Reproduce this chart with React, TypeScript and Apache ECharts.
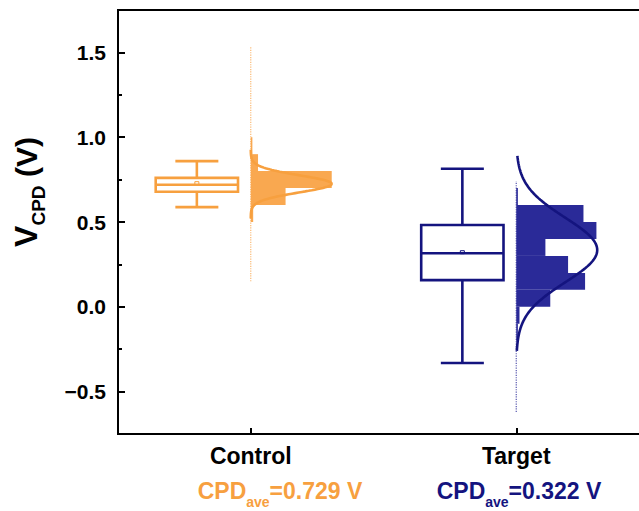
import React, { useEffect, useRef } from "react";
import * as echarts from "echarts";

// ---------- data ----------
const categories = ["Control", "Target"];
const categoryPos = [1, 2];
const cpdAverage = [0.729, 0.322];

// box stats: [lower whisker, Q1, median, Q3, upper whisker, mean]
const controlBox = [0.588, 0.678, 0.72, 0.76, 0.859, 0.729];
const targetBox = [-0.331, 0.157, 0.316, 0.482, 0.814, 0.322];

// histogram bins (lower edges), relative frequencies (max = 100)
const binWidth = 0.1;
const controlBinLo = [0.5, 0.6, 0.7, 0.8, 0.9];
const controlFreq = [3, 43, 100, 9, 2];
const targetBinLo = [-0.2, -0.1, 0.0, 0.1, 0.2, 0.3, 0.4, 0.5, 0.6];
const targetFreq = [2, 4, 42, 85, 64, 36, 99, 83, 2];

// data extent (thin tails of single points)
const controlExtent = [0.15, 1.53];
const targetExtent = [-0.62, 0.74];

// fitted normal curves: mean, sd, peak (relative frequency), drawn range
const curveMean = [0.725, 0.335];
const curveSd = [0.05, 0.19];
const curvePeak = [100, 100];
const curveRange = [
  [0.52, 0.93],
  [-0.26, 0.89],
];

const yMajorTicks = [-0.5, 0.0, 0.5, 1.0, 1.5];
const yMinorTicks = [-0.25, 0.25, 0.75, 1.25];

// ---------- layout constants (axis units) ----------
const BOX_SHIFT = -0.203;
const BOX_HALF = 0.155;
const CAP_HALF = 0.081;
const FREQ_TO_X = 0.305 / 100;

const ORANGE = "#F7A03F";
const ORANGE_FILL = "#F9A850";
const NAVY = "#14147F";
const NAVY_FILL = "#2A2A98";
const FONT = "'Liberation Sans', Arial, Helvetica, sans-serif";

function boxRenderer(color: string) {
  return (params: any, api: any) => {
    const pos = api.value(0);
    const y = (i: number) => api.coord([pos, api.value(i)])[1];
    const cx = api.coord([pos + BOX_SHIFT, 0])[0];
    const hw = api.size([BOX_HALF, 0])[0];
    const cw = api.size([CAP_HALF, 0])[0];
    const yLw = y(1), yQ1 = y(2), yMed = y(3), yQ3 = y(4), yUw = y(5), yMean = y(6);
    const st = { stroke: color, lineWidth: 2.6, fill: null };
    return {
      type: "group",
      children: [
        { type: "line", shape: { x1: cx, y1: yUw, x2: cx, y2: yQ3 }, style: st },
        { type: "line", shape: { x1: cx, y1: yQ1, x2: cx, y2: yLw }, style: st },
        { type: "line", shape: { x1: cx - cw, y1: yUw, x2: cx + cw, y2: yUw }, style: st },
        { type: "line", shape: { x1: cx - cw, y1: yLw, x2: cx + cw, y2: yLw }, style: st },
        {
          type: "rect",
          shape: { x: cx - hw, y: yQ3, width: 2 * hw, height: yQ1 - yQ3 },
          style: { stroke: color, lineWidth: 2.6, fill: "#fff" },
        },
        { type: "line", shape: { x1: cx - hw, y1: yMed, x2: cx + hw, y2: yMed }, style: st },
        {
          type: "rect",
          shape: { x: cx - 2, y: yMean - 1.5, width: 4, height: 3 },
          style: { stroke: color, lineWidth: 1, fill: null },
        },
      ],
    };
  };
}

function histRenderer(color: string) {
  return (params: any, api: any) => {
    const pos = api.value(0);
    const lo = api.value(1);
    const hi = api.value(2);
    const f = api.value(3);
    const p1 = api.coord([pos, hi]);
    const p2 = api.coord([pos + f * FREQ_TO_X, lo]);
    return {
      type: "rect",
      shape: { x: p1[0], y: p1[1], width: p2[0] - p1[0], height: p2[1] - p1[1] },
      style: { fill: color },
    };
  };
}

function histData(pos: number, lows: number[], freqs: number[]) {
  return lows.map((lo, i) => [pos, lo, lo + binWidth, freqs[i]]);
}

function curveData(k: number) {
  const pos = categoryPos[k];
  const m = curveMean[k];
  const s = curveSd[k];
  const pts: number[][] = [];
  const [a, b] = curveRange[k];
  const n = 120;
  for (let i = 0; i <= n; i++) {
    const v = a + ((b - a) * i) / n;
    const f = curvePeak[k] * Math.exp(-((v - m) * (v - m)) / (2 * s * s));
    pts.push([pos + f * FREQ_TO_X, v]);
  }
  return pts;
}

const fmtY = (v: number) => (v < 0 ? "\u2212" + Math.abs(v).toFixed(1) : v.toFixed(1));

export default function App() {
  const ref = useRef<HTMLDivElement>(null);
  useEffect(() => {
    if (!ref.current) return;
    const chart = echarts.init(ref.current, null, { renderer: "svg" });
    const option: any = {
      animation: false,
      backgroundColor: "#fff",
      grid: {
        left: 118,
        top: 10,
        width: 531,
        height: 424,
        outerBoundsMode: "none",
        containLabel: false,
        show: true,
        borderColor: "#000",
        borderWidth: 2,
        backgroundColor: "transparent",
      },
      xAxis: {
        type: "value",
        min: 0.5,
        max: 2.5,
        axisLine: { show: true, onZero: false, lineStyle: { color: "#000", width: 2 } },
        axisTick: {
          show: true,
          inside: true,
          length: 6,
          customValues: categoryPos,
          lineStyle: { color: "#000", width: 2 },
        },
        axisLabel: {
          customValues: categoryPos,
          formatter: (v: number) => categories[Math.round(v) - 1] ?? "",
          color: "#000",
          fontSize: 23,
          fontWeight: "bold",
          fontFamily: FONT,
          margin: 10,
        },
        splitLine: { show: false },
      },
      yAxis: [
        {
          type: "value",
          min: -0.75,
          max: 1.75,
          axisLine: { show: true, onZero: false, lineStyle: { color: "#000", width: 2 } },
          axisTick: {
            show: true,
            inside: true,
            length: 7,
            customValues: yMajorTicks,
            lineStyle: { color: "#000", width: 2 },
          },
          axisLabel: {
            customValues: yMajorTicks,
            formatter: fmtY,
            color: "#000",
            fontSize: 21,
            fontWeight: "bold",
            fontFamily: FONT,
            margin: 12,
          },
          splitLine: { show: false },
        },
        {
          type: "value",
          min: -0.75,
          max: 1.75,
          position: "left",
          axisLine: { show: false, onZero: false },
          axisTick: {
            show: true,
            inside: true,
            length: 4,
            customValues: yMinorTicks,
            lineStyle: { color: "#000", width: 2 },
          },
          axisLabel: { show: false },
          splitLine: { show: false },
        },
      ],
      graphic: [
        {
          type: "text",
          x: 26,
          y: 192,
          rotation: Math.PI / 2,
          style: {
            text: "{v|V}{s|CPD}{p| (V)}",
            align: "center",
            verticalAlign: "middle",
            fill: "#000",
            rich: {
              v: { fontSize: 32, fontWeight: "bold", fontFamily: FONT, lineHeight: 44, verticalAlign: "middle", fill: "#000" },
              s: { fontSize: 19, fontWeight: "bold", fontFamily: FONT, lineHeight: 44, verticalAlign: "bottom", fill: "#000" },
              p: { fontSize: 30, fontWeight: "bold", fontFamily: FONT, lineHeight: 44, verticalAlign: "middle", fill: "#000" },
            },
          },
        },
        ...[0, 1].map((k) => ({
          type: "text",
          x: k === 0 ? 280 : 519,
          y: 491,
          style: {
            text: `{a|CPD}{b|ave}{a|=${cpdAverage[k].toFixed(3)} V}`,
            align: "center",
            verticalAlign: "middle",
            rich: {
              a: { fontSize: 23, fontWeight: "bold", fontFamily: FONT, lineHeight: 36, verticalAlign: "middle", fill: k === 0 ? ORANGE : NAVY },
              b: { fontSize: 14, fontWeight: "bold", fontFamily: FONT, lineHeight: 36, verticalAlign: "bottom", fill: k === 0 ? ORANGE : NAVY },
            },
          },
        })),
      ],
      series: [
        {
          type: "line",
          data: [
            [categoryPos[0], controlExtent[0]],
            [categoryPos[0], controlExtent[1]],
          ],
          showSymbol: false,
          lineStyle: { color: ORANGE_FILL, width: 1.2, type: "dotted", opacity: 0.8 },
          z: 1,
        },
        {
          type: "line",
          data: [
            [categoryPos[1], targetExtent[0]],
            [categoryPos[1], targetExtent[1]],
          ],
          showSymbol: false,
          lineStyle: { color: NAVY_FILL, width: 1.2, type: "dotted", opacity: 0.8 },
          z: 1,
        },
        {
          type: "custom",
          renderItem: histRenderer(ORANGE_FILL),
          data: histData(categoryPos[0], controlBinLo, controlFreq),
          encode: { x: 0, y: 1 },
          z: 2,
        },
        {
          type: "custom",
          renderItem: histRenderer(NAVY_FILL),
          data: histData(categoryPos[1], targetBinLo, targetFreq),
          encode: { x: 0, y: 1 },
          z: 2,
        },
        {
          type: "line",
          data: curveData(0),
          showSymbol: false,
          lineStyle: { color: ORANGE, width: 2.6 },
          z: 3,
        },
        {
          type: "line",
          data: curveData(1),
          showSymbol: false,
          lineStyle: { color: NAVY, width: 2.6 },
          z: 3,
        },
        {
          type: "custom",
          renderItem: boxRenderer(ORANGE),
          data: [[categoryPos[0], ...controlBox]],
          encode: { x: 0, y: 3 },
          z: 4,
        },
        {
          type: "custom",
          renderItem: boxRenderer(NAVY),
          data: [[categoryPos[1], ...targetBox]],
          encode: { x: 0, y: 3 },
          z: 4,
        },
      ],
    };
    chart.setOption(option);
    return () => chart.dispose();
  }, []);
  return (
    <div
      ref={ref}
      style={{ position: "fixed", left: 0, top: 0, width: 639, height: 511, background: "#fff" }}
    />
  );
}
